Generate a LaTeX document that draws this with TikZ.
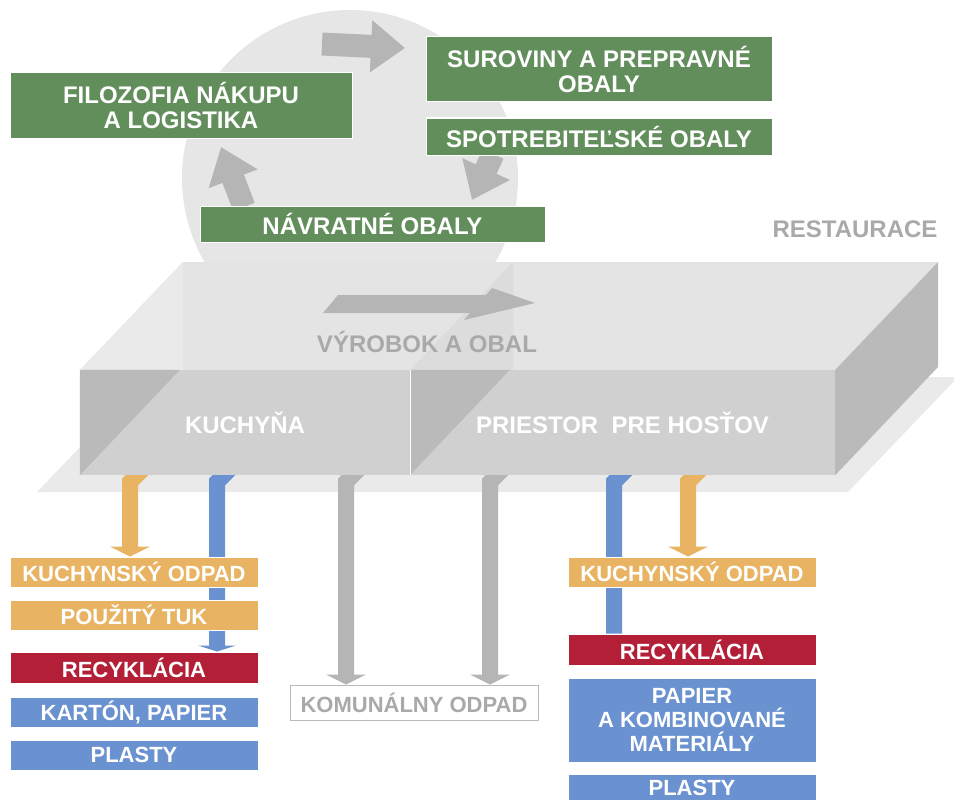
\documentclass[tikz,border=0pt]{standalone}
\usepackage{fontspec}
\setmainfont{Liberation Sans}
\usetikzlibrary{arrows.meta,positioning}
\pgfdeclarelayer{back}
\pgfdeclarelayer{flow}
\pgfsetlayers{back,flow,main}

\definecolor{leafgreen}{HTML}{628E5C}
\definecolor{wasteorange}{HTML}{E8B463}
\definecolor{recyclered}{HTML}{B41F38}
\definecolor{paperblue}{HTML}{6A91D0}
\definecolor{arrowgray}{HTML}{B5B5B5}
\definecolor{circlegray}{HTML}{E6E6E6}
\definecolor{topgray}{HTML}{E4E4E4}
\definecolor{wallgray}{HTML}{DCDCDC}
\definecolor{frontgray}{HTML}{D0D0D0}
\definecolor{sidegray}{HTML}{BABABA}
\definecolor{floorgray}{HTML}{EAEAEA}
\definecolor{labelgray}{HTML}{A9A9A9}

\begin{document}
\begin{tikzpicture}[
    x=1pt, y=-1pt,
    greenbox/.style={
        rectangle, fill=leafgreen, draw=white, line width=1pt, text=white,
        align=center, inner sep=0pt, font=\bfseries\fontsize{24}{25}\selectfont
    },
    wastebox/.style={
        rectangle, draw=white, line width=1pt, text=white, align=center,
        inner sep=0pt, minimum width=248pt, font=\bfseries\fontsize{22}{24}\selectfont
    },
    roomface/.style={
        rectangle, fill=frontgray, inner sep=0pt, minimum height=105pt,
        text=white, font=\bfseries\fontsize{24}{25}\selectfont
    },
    graylabel/.style={text=labelgray, font=\bfseries\fontsize{24}{25}\selectfont},
    cyclearrow/.style={draw=arrowgray, line width=23pt, -{Triangle[length=34pt, width=50pt]}},
    flow/.style={line width=16pt, line join=miter},
    flowhead/.style={-{Triangle[length=10pt, width=40pt]}}
]
\useasboundingbox (0,0) rectangle (954,800);
\clip (0,0) rectangle (954,800);

% Cycle of packaging
\fill[circlegray] (350,178) circle[radius=168pt];

\coordinate (cycTopA) at (322,44);
\coordinate (cycTopB) at (405,48);
\coordinate (cycRightA) at (493,154);
\coordinate (cycRightB) at (472,200);
\coordinate (cycLeftA) at (244,207);
\coordinate (cycLeftB) at (221,147);
\draw[cyclearrow] (cycTopA) -- (cycTopB);
\draw[cyclearrow] (cycRightA) -- (cycRightB);
\draw[cyclearrow] (cycLeftA) -- (cycLeftB);

\node[greenbox, minimum width=342pt, minimum height=65pt] (filo) at (181,105.5) {FILOZOFIA NÁKUPU\\A LOGISTIKA};
\node[greenbox, minimum width=346pt, minimum height=65pt] (surov) at (599,69.5) {SUROVINY A PREPRAVNÉ\\OBALY};
\node[greenbox, minimum width=346pt, minimum height=37pt] (spotr) at (599,136.5) {SPOTREBITEĽSKÉ OBALY};
\node[greenbox, minimum width=345pt, minimum height=36pt] (navrat) at (372.5,224) {NÁVRATNÉ OBALY};

\node[graylabel] (rest) at (855,229) {RESTAURACE};

% Restaurant box
\begin{pgfonlayer}{back}
\fill[floorgray] (37,492) -- (848,492) -- (958,377) -- (147,377) -- cycle;
\end{pgfonlayer}

\fill[topgray] (80,370) -- (183,262) -- (938,262) -- (835,370) -- cycle;
\fill[floorgray] (80,370) -- (183,262) -- (183,370) -- cycle;
\fill[wallgray] (410,370) -- (513,262) -- (513,370) -- cycle;

\fill[arrowgray] (323,313) -- (338,295) -- (486,295) -- (492,288) -- (535,303) -- (464,320) -- (470,313) -- cycle;
\node[graylabel] (vyrobok) at (427,342) {VÝROBOK A OBAL};

\node[roomface, minimum width=330pt] (kuchyna) at (245,422.5) {KUCHYŇA};
\node[roomface, minimum width=425pt] (hostia) at (622.5,422.5) {PRIESTOR \ PRE HOSŤOV};

\fill[sidegray] (kuchyna.north west) -- ++(100,0) -- (kuchyna.south west) -- cycle;
\fill[sidegray] (hostia.north west) -- ++(100,0) -- (hostia.south west) -- cycle;
\draw[white, line width=1.2pt] (kuchyna.north east) -- (kuchyna.south east);
\fill[sidegray] (hostia.north east) -- (938,262) -- (938,367) -- (hostia.south east) -- cycle;

% Waste streams
\node[wastebox, fill=wasteorange, minimum height=30pt] (kuchL) at (134,572) {KUCHYNSKÝ ODPAD};
\node[wastebox, fill=wasteorange, minimum height=30pt] (tukL) at (134,615) {POUŽITÝ TUK};
\node[wastebox, fill=recyclered, minimum height=31pt] (recL) at (134,667.5) {RECYKLÁCIA};
\node[wastebox, fill=paperblue, minimum height=30pt] (kartL) at (134,712) {KARTÓN, PAPIER};
\node[wastebox, fill=paperblue, minimum height=30pt] (plastL) at (134,755) {PLASTY};

\node[wastebox, fill=white, draw=labelgray!80, text=labelgray, minimum height=35pt] (komunal) at (414,702.5) {KOMUNÁLNY ODPAD};

\node[wastebox, fill=wasteorange, minimum height=30pt] (kuchR) at (692,572) {KUCHYNSKÝ ODPAD};
\node[wastebox, fill=recyclered, minimum height=31pt] (recR) at (692,649.5) {RECYKLÁCIA};
\node[wastebox, fill=paperblue, minimum height=84pt] (papR) at (692,720) {PAPIER\\A KOMBINOVANÉ\\MATERIÁLY};
\node[wastebox, fill=paperblue, minimum height=27pt] (plastR) at (692,787.5) {PLASTY};

\begin{pgfonlayer}{flow}
\draw[flow, wasteorange, flowhead] (150,462) -- (130,482) -- (130,0 |- kuchL.north);
\draw[flow, paperblue, -{Triangle[length=6pt, width=38pt]}] (237,462) -- (217,482) -- (217,0 |- recL.north);
\draw[flow, arrowgray, flowhead] (366,462) -- (346,482) -- (346,0 |- komunal.north);
\draw[flow, arrowgray, flowhead] (510,462) -- (490,482) -- (490,0 |- komunal.north);
\draw[flow, paperblue] (634,462) -- (614,482) -- (614,0 |- recR.north);
\draw[flow, wasteorange, flowhead] (708,462) -- (688,482) -- (688,0 |- kuchR.north);
\end{pgfonlayer}

\end{tikzpicture}
\end{document}
